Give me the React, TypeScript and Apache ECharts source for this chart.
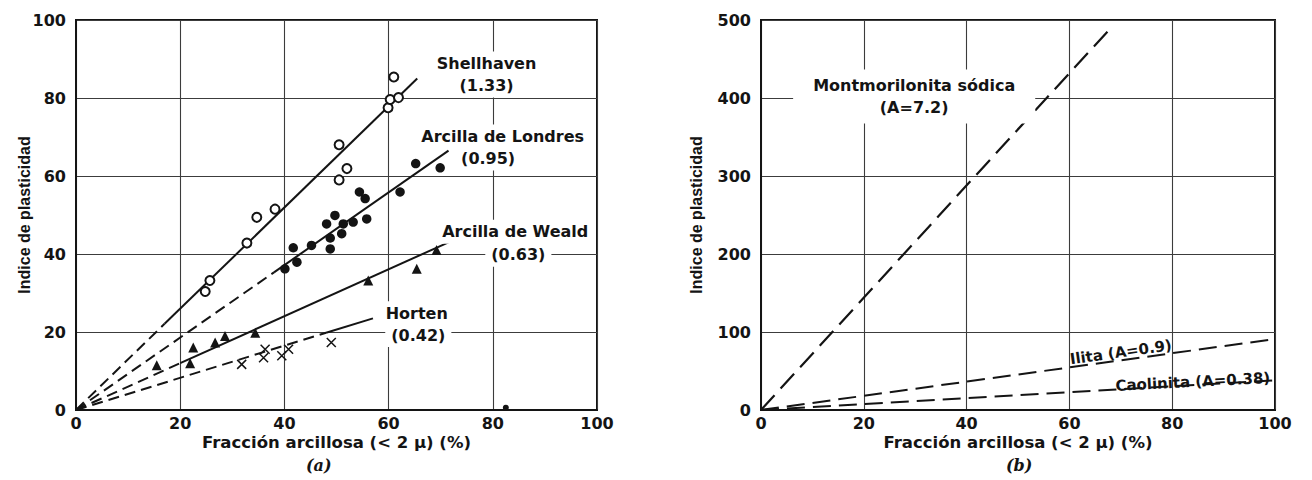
import React, { useEffect, useRef } from "react";
import * as echarts from "echarts";

// ---------- Data: panel (a) ----------
const shellX = [24.8, 25.7, 32.8, 34.7, 38.2, 50.5, 52.0, 50.5, 59.9, 60.3, 61.9, 61.0];
const shellY = [30.4, 33.2, 42.8, 49.4, 51.5, 59.0, 61.9, 68.0, 77.5, 79.6, 80.1, 85.4];

const londonX = [40.1, 42.4, 41.7, 45.2, 48.8, 48.8, 51.0, 48.1, 51.3, 53.2, 55.8, 49.7, 55.5, 54.4, 62.2, 65.2, 69.9];
const londonY = [36.2, 37.9, 41.6, 42.2, 41.3, 44.1, 45.2, 47.7, 47.7, 48.2, 49.0, 49.9, 54.2, 55.9, 55.9, 63.2, 62.1];

const wealdX = [15.5, 21.9, 22.5, 26.7, 28.6, 34.4, 56.1, 65.4, 69.2];
const wealdY = [11.5, 12.0, 16.0, 17.3, 19.0, 19.8, 33.2, 36.2, 41.0];

const hortenX = [31.8, 36.0, 36.3, 39.5, 40.8, 49.0];
const hortenY = [11.7, 13.4, 15.6, 13.9, 15.6, 17.3];

const strayX = [82.5];
const strayY = [0.6];

// fitted lines (x, y) for panel (a): dashed part then solid part
const shellDashed = [[0, 0], [17, 22.1]];
const shellSolid = [[17, 22.1], [65.5, 85]];
const londonDashed = [[0, 0], [38, 35.3]];
const londonSolid = [[38, 35.3], [71.5, 66.5]];
const wealdDashed = [[0, 0], [20, 12]];
const wealdSolid = [[20, 12], [71.5, 43]];
const hortenDashed = [[0, 0], [48, 19.8]];
const hortenSolid = [[48, 19.8], [57, 23.5]];

// ---------- Data: panel (b) ----------
const montLine = [[0, 0], [68.5, 493]];
const ilitaLine = [[0, 0], [100, 91]];
const caolLine = [[0, 0], [100, 38]];

// annotation texts and anchor points (data coordinates)
const labelsA = [
  { text: "Shellhaven\n(1.33)", x: 78.8, y: 86.0 },
  { text: "Arcilla de Londres", x: 81.9, y: 70.1 },
  { text: "(0.95)", x: 79.1, y: 64.5 },
  { text: "Arcilla de Weald", x: 84.3, y: 45.7 },
  { text: "(0.63)", x: 84.9, y: 39.8 },
  { text: "Horten", x: 65.4, y: 24.8 },
  { text: "(0.42)", x: 65.7, y: 19.2 },
];
const labelMont = { text: "Montmorilonita sódica\n(A=7.2)", x: 29.8, y: 402 };
const labelIlita = { text: "Ilita (A=0.9)", x: 70, y: 74 };
const labelCaol = { text: "Caolinita (A=0.38)", x: 84, y: 36 };

const xTitle = "Fracción arcillosa (< 2 μ) (%)";
const yTitle = "Indice de plasticidad";

const INK = "#141414";
const FONT = "DejaVu Sans";

export default function App() {
  const ref = useRef<HTMLDivElement>(null);

  useEffect(() => {
    if (!ref.current) return;
    const chart = echarts.init(ref.current, undefined, { renderer: "svg" });

    const zip = (xs: number[], ys: number[]) => xs.map((x, i) => [x, ys[i]]);

    const axisCommon = {
      type: "value",
      axisLine: { show: true, lineStyle: { color: INK, width: 2 } },
      axisTick: { show: false },
      splitLine: { show: true, lineStyle: { color: "#3c3c3c", width: 1.1 } },
      axisLabel: { color: INK, fontFamily: FONT, fontWeight: "bold", fontSize: 16 },
    };

    const xAxisOf = (gi: number) => ({
      ...axisCommon,
      gridIndex: gi,
      min: 0,
      max: 100,
      interval: 20,
      axisLabel: { ...axisCommon.axisLabel, margin: 5 },
      name: xTitle,
      nameLocation: "middle",
      nameGap: 24,
      nameMoveOverlap: false,
      nameTextStyle: { color: INK, fontFamily: FONT, fontWeight: "bold", fontSize: 16.5 },
    });

    const yAxisOf = (gi: number, max: number, interval: number, gap: number) => ({
      ...axisCommon,
      gridIndex: gi,
      min: 0,
      max,
      interval,
      axisLabel: { ...axisCommon.axisLabel, margin: 10 },
      name: yTitle,
      nameLocation: "middle",
      nameRotate: 90,
      nameGap: gap,
      nameMoveOverlap: false,
      nameTextStyle: {
        color: INK,
        fontFamily: "Liberation Sans Narrow, Liberation Sans",
        fontWeight: "bold",
        fontSize: 16,
      },
    });

    const line = (data: number[][], xi: number, dashed: number[] | null, width = 2) => ({
      type: "line",
      xAxisIndex: xi,
      yAxisIndex: xi,
      data,
      symbol: "none",
      silent: true,
      lineStyle: { color: INK, width, type: dashed ? dashed : "solid", cap: "butt", opacity: 1 },
      z: 3,
    });

    const textSeries = (
      items: { text: string; x: number; y: number }[],
      xi: number,
      extra: any = {}
    ) => ({
      type: "scatter",
      xAxisIndex: xi,
      yAxisIndex: xi,
      symbolSize: 1,
      itemStyle: { color: "rgba(0,0,0,0)", opacity: 1 },
      silent: true,
      z: 6,
      data: items.map((d) => ({ value: [d.x, d.y], name: d.text })),
      label: {
        show: true,
        position: "inside",
        formatter: (p: any) => p.name,
        color: INK,
        opacity: 1,
        textBorderWidth: 0,
        fontFamily: FONT,
        fontWeight: "bold",
        fontSize: 16,
        lineHeight: 22,
        align: "center",
        ...extra,
      },
    });

    const dashA = [11, 6];
    const dashB = [20, 9];

    const pointStyle = { color: INK, opacity: 1 };

    chart.setOption({
      animation: false,
      backgroundColor: "#ffffff",
      grid: [
        { left: 76, top: 20, width: 521, height: 390, show: true, borderColor: INK, borderWidth: 2, backgroundColor: "rgba(0,0,0,0)" },
        { left: 761, top: 20, width: 514, height: 390, show: true, borderColor: INK, borderWidth: 2, backgroundColor: "rgba(0,0,0,0)" },
      ],
      xAxis: [xAxisOf(0), xAxisOf(1)],
      yAxis: [yAxisOf(0, 100, 20, 44), yAxisOf(1, 500, 100, 57)],
      series: [
        line(shellDashed, 0, dashA),
        line(shellSolid, 0, null),
        line(londonDashed, 0, dashA),
        line(londonSolid, 0, null),
        line(wealdDashed, 0, dashA),
        line(wealdSolid, 0, null),
        line(hortenDashed, 0, dashA),
        line(hortenSolid, 0, null),
        {
          type: "scatter",
          name: "Shellhaven",
          data: zip(shellX, shellY),
          symbol: "emptyCircle",
          symbolSize: 9,
          itemStyle: { ...pointStyle, borderColor: INK, borderWidth: 1.7 },
          z: 4,
        },
        {
          type: "scatter",
          name: "Arcilla de Londres",
          data: zip(londonX, londonY),
          symbol: "circle",
          symbolSize: 9.5,
          itemStyle: pointStyle,
          z: 4,
        },
        {
          type: "scatter",
          name: "Arcilla de Weald",
          data: zip(wealdX, wealdY),
          symbol: "triangle",
          symbolSize: 10,
          itemStyle: pointStyle,
          z: 4,
        },
        {
          type: "scatter",
          name: "Horten",
          data: zip(hortenX, hortenY),
          symbol: "path://M0 0L10 10M10 0L0 10",
          symbolSize: 9,
          itemStyle: { color: "rgba(0,0,0,0)", opacity: 1, borderColor: INK, borderWidth: 1.5 },
          z: 4,
        },
        {
          type: "scatter",
          data: zip(strayX, strayY),
          symbol: "circle",
          symbolSize: 6,
          itemStyle: pointStyle,
          z: 4,
        },
        textSeries(labelsA, 0, { backgroundColor: "#ffffff", padding: [1, 6] }),
        // panel (b)
        line(montLine, 1, dashB, 2.2),
        line(ilitaLine, 1, [18, 8], 2),
        line(caolLine, 1, [18, 8], 2),
        textSeries([labelMont], 1, { backgroundColor: "#ffffff", padding: [5, 20] }),
        textSeries([labelIlita], 1, { rotate: 8, fontSize: 15 }),
        textSeries([labelCaol], 1, { rotate: 3, fontSize: 15 }),
      ],
      graphic: [
        {
          type: "text",
          left: 306,
          top: 457,
          style: { text: "(a)", fill: INK, font: "italic bold 16px 'DejaVu Serif'" },
        },
        {
          type: "text",
          left: 1006,
          top: 457,
          style: { text: "(b)", fill: INK, font: "italic bold 16px 'DejaVu Serif'" },
        },
      ],
    });

    return () => chart.dispose();
  }, []);

  return (
    <div
      ref={ref}
      style={{ position: "fixed", left: 0, top: 0, width: 1312, height: 480, background: "#fff" }}
    />
  );
}
